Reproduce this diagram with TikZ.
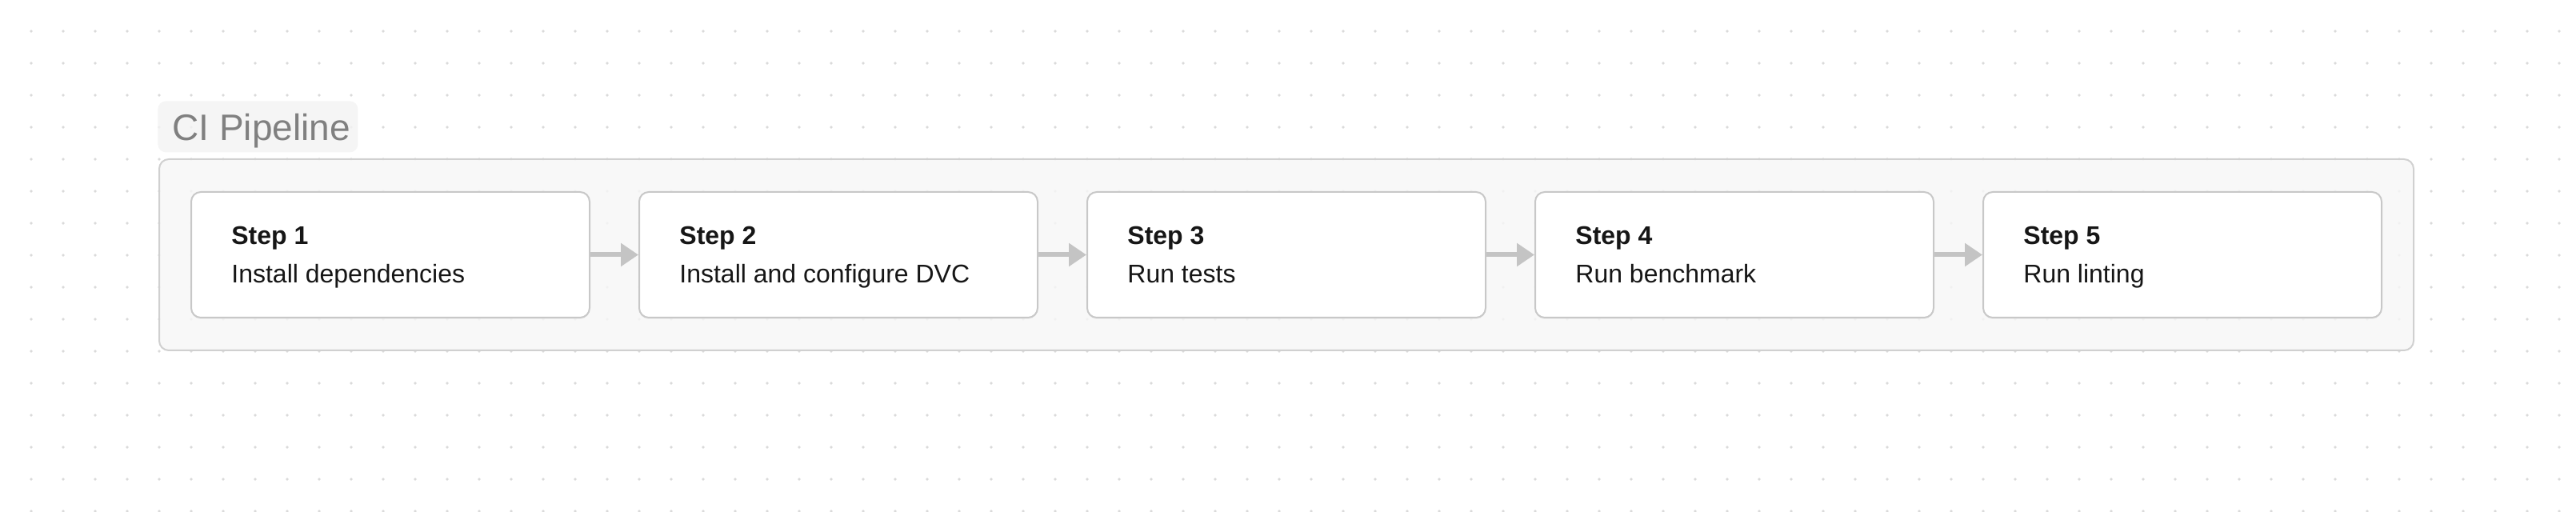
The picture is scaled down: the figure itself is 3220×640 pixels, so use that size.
\documentclass[tikz,border=0pt]{standalone}
\usepackage{fontspec}
\setmainfont{Liberation Sans}
\usetikzlibrary{arrows.meta,calc,shadows}
\definecolor{dotc}{HTML}{DADADA}
\definecolor{contfill}{HTML}{F7F7F7}
\definecolor{contdraw}{HTML}{D0D0D0}
\definecolor{boxdraw}{HTML}{C8C8C8}
\definecolor{titlegray}{HTML}{808080}
\definecolor{titlebgc}{HTML}{F3F3F3}
\definecolor{inkc}{HTML}{161616}
\definecolor{arrowc}{HTML}{C4C4C4}
\tikzset{
  container/.style={draw=contdraw, line width=1pt, fill=contfill, fill opacity=0.8,
    rounded corners=6pt, inner sep=0pt, minimum width=1409pt, minimum height=119.5pt, anchor=north west},
  titlebg/.style={fill=titlebgc, fill opacity=0.8, rounded corners=5pt, inner sep=0pt,
    minimum width=125pt, minimum height=32pt, anchor=north west},
  titletext/.style={text=titlegray, font=\fontsize{23}{27}\selectfont, inner sep=0pt, anchor=base west},
  stepbox/.style={draw=boxdraw, line width=1pt, fill=white, rounded corners=6pt, inner sep=0pt,
    minimum width=249pt, minimum height=78.5pt, anchor=north west,
    drop shadow={shadow xshift=0pt, shadow yshift=-1pt, opacity=0.07}},
  steplabel/.style={text=inkc, font=\fontsize{16}{19}\selectfont\bfseries, inner sep=0pt, anchor=base west},
  stepdesc/.style={text=inkc, font=\fontsize{16}{19}\selectfont, inner sep=0pt, anchor=base west},
  conn/.style={draw=arrowc, line width=3pt, -{Triangle[length=11pt,width=14pt]}}
}
\begin{document}
\begin{tikzpicture}[x=0.5pt,y=-0.5pt]
\useasboundingbox (0,0) rectangle (3220,640);
\fill[white] (0,0) rectangle (3220,640);
\foreach \i in {0,...,80}{
  \foreach \j in {0,...,15}{
    \fill[dotc] (39+40*\i,39+40*\j) circle[radius=0.9pt];
  }
}
\node[container] (pipe) at (198,198) {};
\node[titlebg] (titlebox) at (197,126) {};
\node[titletext] (title) at (215,176) {CI Pipeline};
\foreach \i/\t in {1/Install dependencies,2/Install and configure DVC,3/Run tests,4/Run benchmark,5/Run linting}{
  \node[stepbox] (s\i) at (238+560*\i-560,239) {};
  \node[steplabel] (l\i) at ($(s\i.north west)+(51,67)$) {Step \i};
  \node[stepdesc] (d\i) at ($(s\i.north west)+(51,115)$) {\t};
}
\foreach \a/\b in {1/2,2/3,3/4,4/5}{
  \draw[conn] (s\a.east) -- (s\b.west);
}
\end{tikzpicture}
\end{document}
